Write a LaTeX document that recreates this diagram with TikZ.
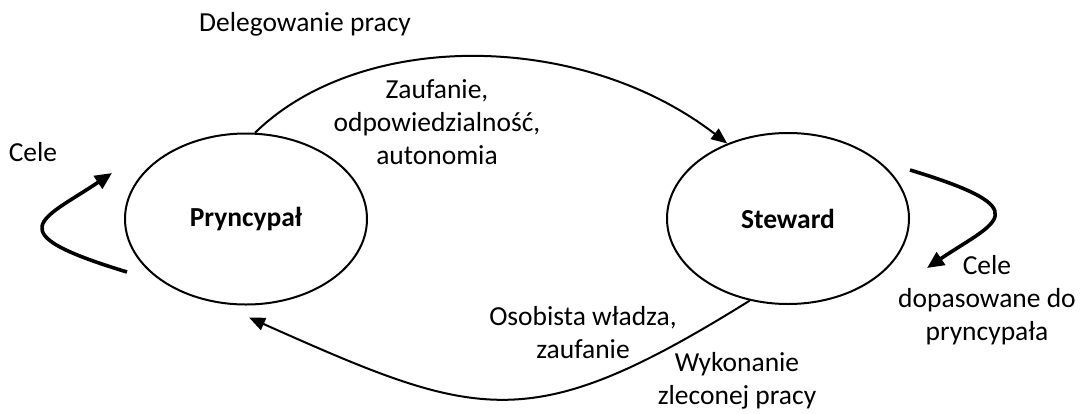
\documentclass[tikz,border=0pt]{standalone}
\usepackage{fontspec}
\setmainfont{Carlito}
\usetikzlibrary{shapes.geometric,arrows.meta}
\begin{document}
\begin{tikzpicture}[x=1pt,y=-1pt,
  every node/.style={font=\fontsize{27.5}{33}\selectfont, inner sep=0pt},
  actor/.style={ellipse, draw, line width=2pt, minimum width=242pt, minimum height=171pt, font=\fontsize{27.5}{33}\selectfont\bfseries},
  label/.style={align=center},
  flow/.style={line width=2pt, -{Triangle[length=16pt,width=13pt]}},
  goal/.style={line width=3.6pt, -{Triangle[length=17pt,width=15pt]}}]
\useasboundingbox (0,0) rectangle (1082,413);

% the two parties
\node[actor] (P) at (246,219) {Pryncypał};
\node[actor] (S) at (788,218.5) {Steward};

% labels
\node[label] (deleg) at (305,24) {Delegowanie pracy};
\node[label] (zauf) at (437,122) {Zaufanie,\\odpowiedzialność,\\autonomia};
\node[label] (celeL) at (33,152) {Cele};
\node[label] (wladza) at (583,333) {Osobista władza,\\zaufanie};
\node[label] (wyk) at (737,381) {Wykonanie\\zleconej pracy};
\node[label] (celeR) at (987,300) {Cele\\dopasowane do\\pryncypała};

% delegation: principal -> steward
\draw[flow] (P.84) .. controls (360,30) and (580,30) .. (S.129);

% performance: steward -> principal
\draw[flow] (S.245) .. controls (529,438) and (479,420) .. ([shift={(3,12)}]P.south);

% goal loops
\coordinate (lA) at (127,272);
\coordinate (lB) at (112,173);
\coordinate (rA) at (910,170);
\coordinate (rB) at (927,268);
\draw[goal] (lA) .. controls (-5,232) and (42,220) .. (lB);
\draw[goal] (rA) .. controls (1042,210) and (995,222) .. (rB);
\end{tikzpicture}
\end{document}
